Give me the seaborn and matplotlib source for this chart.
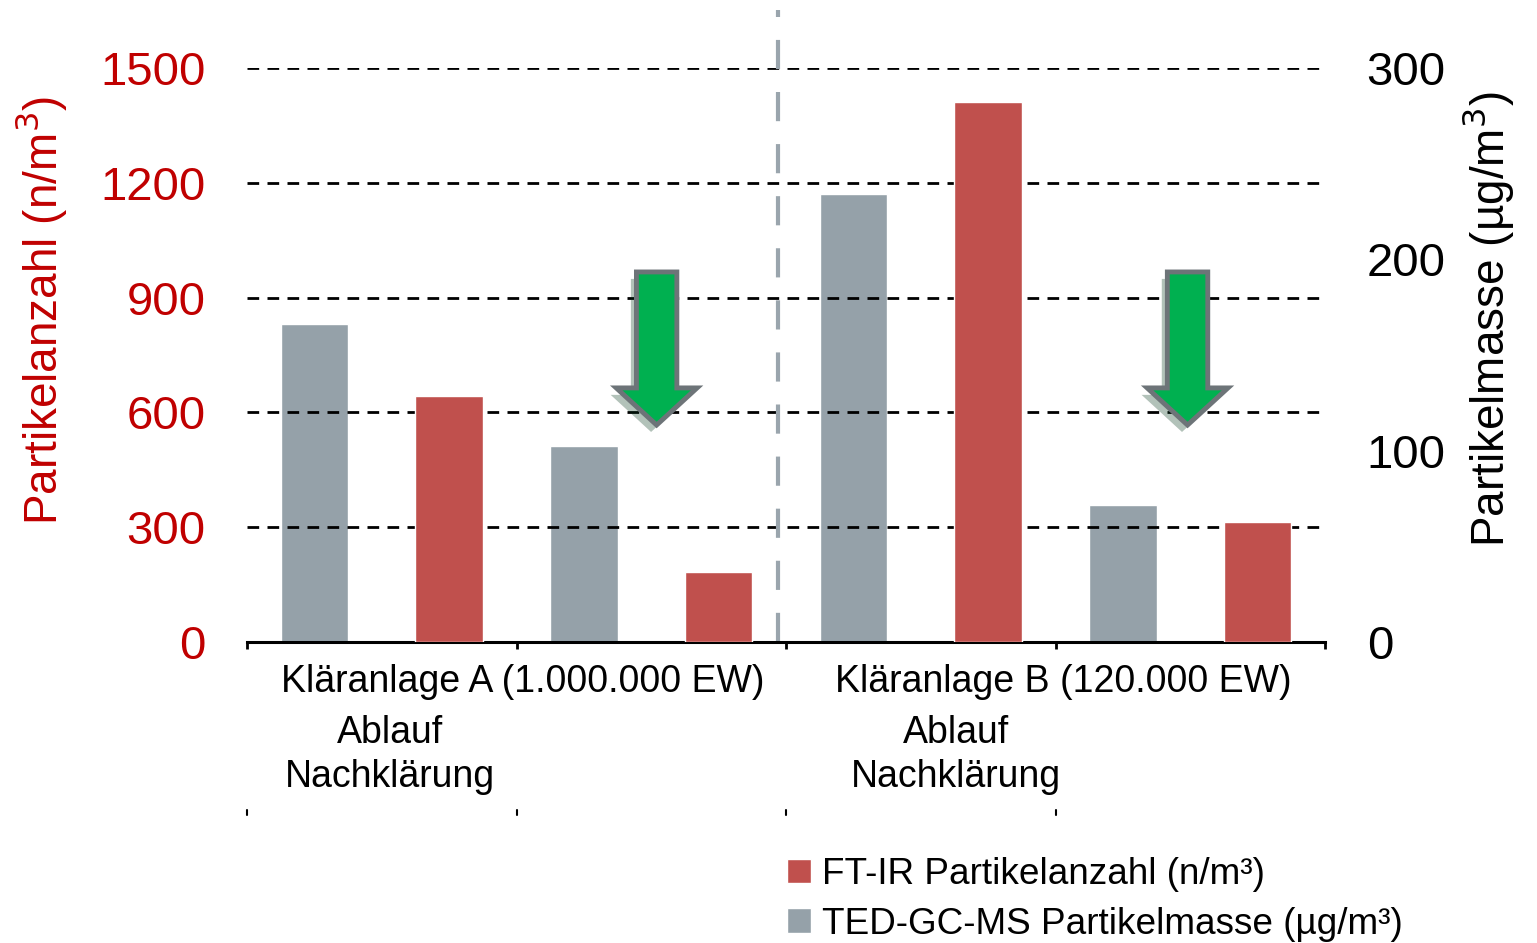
import numpy as np
import pandas as pd
import matplotlib.pyplot as plt
import matplotlib.patheffects as pe
from matplotlib.patches import FancyArrow, Patch
import seaborn as sns

# --- data ---
slots = ["A NK TED", "A NK FTIR", "A X TED", "A X FTIR",
         "B NK TED", "B NK FTIR", "B X TED", "B X FTIR"]
ftir_slots = ["A NK FTIR", "A X FTIR", "B NK FTIR", "B X FTIR"]
ftir_count = [643, 182, 1411, 313]          # n/m³, left axis
ted_slots = ["A NK TED", "A X TED", "B NK TED", "B X TED"]
ted_mass = [166, 102.6, 234, 71.4]          # µg/m³, right axis
anlagen = ["Kläranlage A (1.000.000 EW)", "Kläranlage B (120.000 EW)"]
proben = ["Ablauf\nNachklärung", "Ablauf\nNachklärung"]
left_ticks = [0, 300, 600, 900, 1200, 1500]
right_ticks = [0, 100, 200, 300]

RED = "#C0504D"
GRAY = "#95A1A9"
DARKRED = "#C00000"

sns.set_theme(style="white")
plt.rcParams["font.family"] = ["Liberation Sans", "DejaVu Sans"]
plt.rcParams.update({"text.color": "black", "axes.labelcolor": "black",
                     "xtick.color": "black", "ytick.color": "black"})

df_ftir = pd.DataFrame({"slot": ftir_slots, "wert": ftir_count})
df_ted = pd.DataFrame({"slot": ted_slots, "wert": ted_mass})

fig = plt.figure(figsize=(15.37, 9.43), dpi=100)
ax = fig.add_axes([247 / 1537, 1 - 642 / 943, 1078 / 1537, 574 / 943])
ax2 = ax.twinx()

sns.barplot(data=df_ftir, x="slot", y="wert", order=slots, color=RED,
            width=0.5, saturation=1, ax=ax, zorder=3)
sns.barplot(data=df_ted, x="slot", y="wert", order=slots, color=GRAY,
            width=0.5, saturation=1, ax=ax2, zorder=3)

ax.set_xlim(-0.5, len(slots) - 0.5)
ax.set_ylim(0, 1500)
ax2.set_ylim(0, 300)
ax.set_yticks(left_ticks)
ax2.set_yticks(right_ticks)

# dashed gridlines at left ticks (not at 0)
for v in left_ticks[1:]:
    ax.axhline(v, color="black", lw=2, ls=(0, (4.2, 3)), zorder=1)

for a in (ax, ax2):
    for s in ("left", "right", "top"):
        a.spines[s].set_visible(False)
ax.spines["bottom"].set_linewidth(2.2)
ax.spines["bottom"].set_color("black")
ax2.spines["bottom"].set_visible(False)

ax.tick_params(axis="y", length=0, pad=30, labelsize=34, labelcolor=DARKRED)
ax2.tick_params(axis="y", length=0, pad=30, labelsize=34, labelcolor="black")

bounds = [-0.5, 1.5, 3.5, 5.5, 7.5]
ax.set_xticks(bounds)
ax.set_xticklabels([""] * len(bounds))
ax.tick_params(axis="x", direction="out", length=5, width=2, color="black", bottom=True)

ax.set_xlabel("")
ax2.set_xlabel("")
ax.set_ylabel("Partikelanzahl (n/m$^3$)", fontsize=33, color=DARKRED)
ax.yaxis.set_label_coords(-0.165, 0.577)
ax2.set_ylabel("Partikelmasse (µg/m$^3$)", fontsize=33, color="black")
ax2.yaxis.set_label_coords(1.125, 0.563)

# group labels under the axis
xt = ax.get_xaxis_transform()
for x, t in zip([1.55, 5.56], anlagen):
    ax.text(x, -0.07, t, transform=xt, ha="center", va="center", fontsize=27)
for x, t in zip([0.56, 4.76], proben):
    ax.text(x, -0.197, t, transform=xt, ha="center", va="center", fontsize=27,
            linespacing=1.3)
for b in bounds[:-1]:
    ax.plot([b, b], [-0.292, -0.302], transform=xt, color="black", lw=1.5,
            clip_on=False)

# group separator
ax.axvline(3.44, ymin=0, ymax=1.101, color="#9AA5AD", lw=3,
           ls=(0, (7, 5.5)), clip_on=False, zorder=2)

# green "decrease" arrows
for xc in [2.54, 6.48]:
    arr = FancyArrow(xc, 967, 0, -400, width=0.3, head_width=0.6,
                     head_length=97, length_includes_head=True,
                     facecolor="#00B050", edgecolor="#6D7478", lw=3.5, zorder=5)
    arr.set_path_effects([pe.SimplePatchShadow(offset=(-4, -5), alpha=0.3),
                          pe.Normal()])
    ax.add_patch(arr)
ax.set_zorder(ax2.get_zorder() + 1)
ax.patch.set_visible(False)

handles = [Patch(facecolor=RED, label="FT-IR Partikelanzahl (n/m³)"),
           Patch(facecolor=GRAY, label="TED-GC-MS Partikelmasse (µg/m³)")]
fig.legend(handles=handles, loc="upper left", bbox_to_anchor=(787 / 1537, 1 - 857 / 943),
           frameon=False, fontsize=26.6, handlelength=0.65, handleheight=0.65,
           handletextpad=0.3, labelspacing=0.4, borderpad=0, borderaxespad=0)

fig.savefig("out.png", dpi=100)
